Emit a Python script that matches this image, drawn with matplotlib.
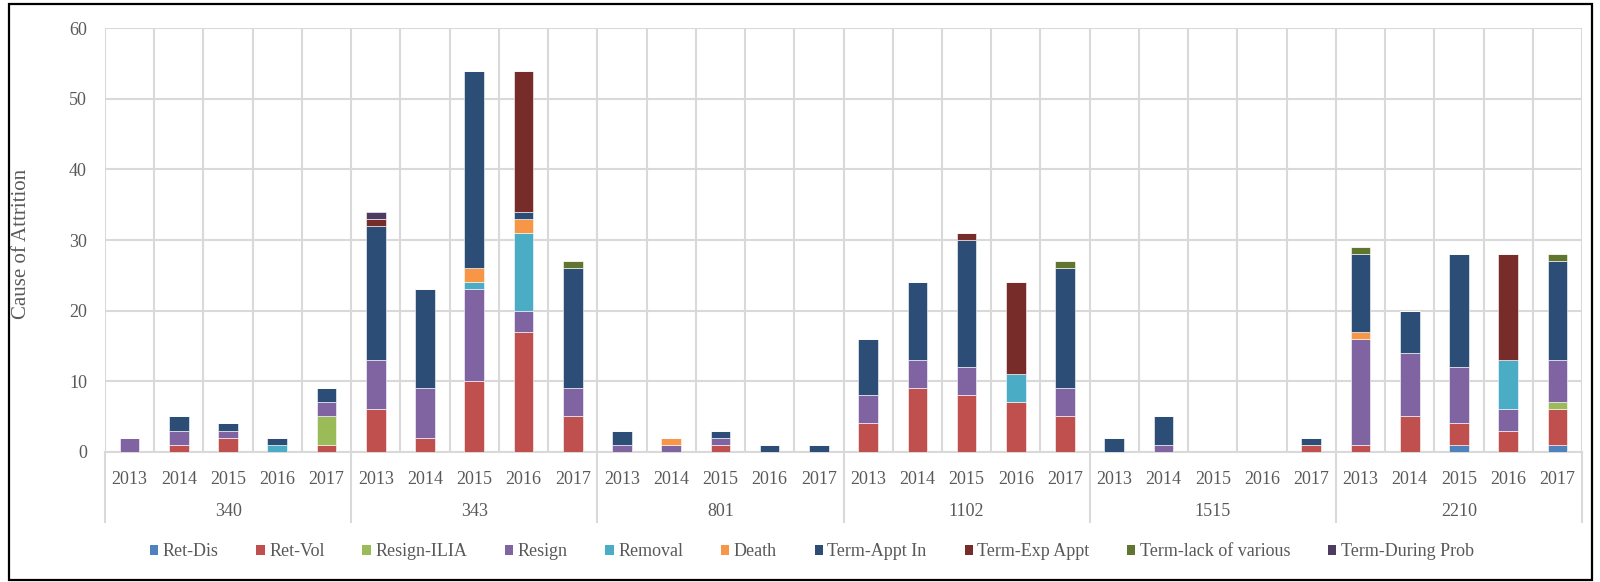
import matplotlib
matplotlib.use("Agg")
import matplotlib.pyplot as plt
import matplotlib.transforms as mtransforms
from matplotlib.patches import Rectangle, Patch
import numpy as np

groups = ["340", "343", "801", "1102", "1515", "2210"]
years = ["2013", "2014", "2015", "2016", "2017"]

series_names = ["Ret-Dis", "Ret-Vol", "Resign-ILIA", "Resign", "Removal", "Death",
                "Term-Appt In", "Term-Exp Appt", "Term-lack of various", "Term-During Prob"]
colors = ["#4F81BD", "#C0504D", "#9BBB59", "#8064A2", "#4BACC6", "#F79646",
          "#2C4D75", "#772C2A", "#5F7530", "#4D3B62"]

#            340            343              801            1102            1515            2210
ret_dis     = [0,0,0,0,0,   0,0,0,0,0,       0,0,0,0,0,     0,0,0,0,0,      0,0,0,0,0,      0,0,1,0,1]
ret_vol     = [0,1,2,0,1,   6,2,10,17,5,     0,0,1,0,0,     4,9,8,7,5,      0,0,0,0,1,      1,5,3,3,5]
resign_ilia = [0,0,0,0,4,   0,0,0,0,0,       0,0,0,0,0,     0,0,0,0,0,      0,0,0,0,0,      0,0,0,0,1]
resign      = [2,2,1,0,2,   7,7,13,3,4,      1,1,1,0,0,     4,4,4,0,4,      0,1,0,0,0,      15,9,8,3,6]
removal     = [0,0,0,1,0,   0,0,1,11,0,      0,0,0,0,0,     0,0,0,4,0,      0,0,0,0,0,      0,0,0,7,0]
death       = [0,0,0,0,0,   0,0,2,2,0,       0,1,0,0,0,     0,0,0,0,0,      0,0,0,0,0,      1,0,0,0,0]
term_appt   = [0,2,1,1,2,   19,14,28,1,17,   2,0,1,1,1,     8,11,18,0,17,   2,4,0,0,1,      11,6,16,0,14]
term_exp    = [0,0,0,0,0,   1,0,0,20,0,      0,0,0,0,0,     0,0,1,13,0,     0,0,0,0,0,      0,0,0,15,0]
term_lack   = [0,0,0,0,0,   0,0,0,0,1,       0,0,0,0,0,     0,0,0,0,1,      0,0,0,0,0,      1,0,0,0,1]
term_prob   = [0,0,0,0,0,   1,0,0,0,0,       0,0,0,0,0,     0,0,0,0,0,      0,0,0,0,0,      0,0,0,0,0]

series = [ret_dis, ret_vol, resign_ilia, resign, removal, death,
          term_appt, term_exp, term_lack, term_prob]

plt.rcParams['font.family'] = ['Liberation Serif', 'DejaVu Serif']
txt_color = "#595959"
grid_color = "#D9D9D9"
FS = 13

W, H = 1600, 582
fig = plt.figure(figsize=(W / 100, H / 100), dpi=100)
ax = fig.add_axes([105 / W, 1 - 451.7 / H, (1582 - 105) / W, (451.7 - 28.3) / H])

n = len(groups) * len(years)
x = np.arange(n)
bottom = np.zeros(n)
for name, vals, c in zip(series_names, series, colors):
    v = np.array(vals, dtype=float)
    ax.bar(x, v, bottom=bottom, width=0.4, color=c, edgecolor="white",
           linewidth=0.4, zorder=3)
    bottom += v

ax.set_xlim(-0.5, n - 0.5)
ax.set_ylim(0, 60)
ax.set_yticks(np.arange(0, 61, 10))
ax.yaxis.grid(True, color=grid_color, linewidth=1.5, zorder=0)
for b in np.arange(-0.5, n, 1.0):
    ax.axvline(b, color=grid_color, linewidth=1.5, zorder=0)
for s in ["top", "right", "left"]:
    ax.spines[s].set_visible(False)
ax.spines["bottom"].set_color(grid_color)
ax.spines["bottom"].set_linewidth(1.5)
ax.tick_params(axis="y", length=0, labelsize=FS, labelcolor=txt_color, pad=13)
ax.tick_params(axis="x", length=0, labelsize=FS, labelcolor=txt_color, pad=14)
ax.set_xticks(x)
ax.set_xticklabels(years * len(groups))

fig.text(22 / W, 1 - 244 / H, "Cause of Attrition", rotation=90, ha="center",
         va="center", fontsize=15, color=txt_color)

trans = mtransforms.blended_transform_factory(ax.transData, ax.transAxes)
axh = 451.7 - 28.3
y_low = -(522 - 451.7) / axh
y_grp = -(511 - 451.7) / axh
for gi in range(len(groups) + 1):
    xb = gi * len(years) - 0.5
    ax.plot([xb, xb], [0, y_low], transform=trans, color=grid_color,
            linewidth=1.5, clip_on=False, zorder=1)
for gi, g in enumerate(groups):
    xc = gi * len(years) + (len(years) - 1) / 2
    ax.text(xc, y_grp, g, transform=trans, ha="center", va="center",
            fontsize=FS, color=txt_color)

handles = [Patch(facecolor=c, edgecolor="none") for c in colors]
fig.legend(handles, series_names, loc="center", bbox_to_anchor=(812 / W, 1 - 552 / H),
           ncol=len(series_names), frameon=False, fontsize=FS,
           handlelength=0.45, handleheight=0.45, handletextpad=0.25,
           columnspacing=2.1, labelcolor=txt_color)

fig.add_artist(Rectangle((9 / W, 2 / H), (1592 - 9) / W, (578 - 2) / H,
                         transform=fig.transFigure, fill=False,
                         edgecolor="black", linewidth=1.6))

fig.savefig("out.png", dpi=100)
